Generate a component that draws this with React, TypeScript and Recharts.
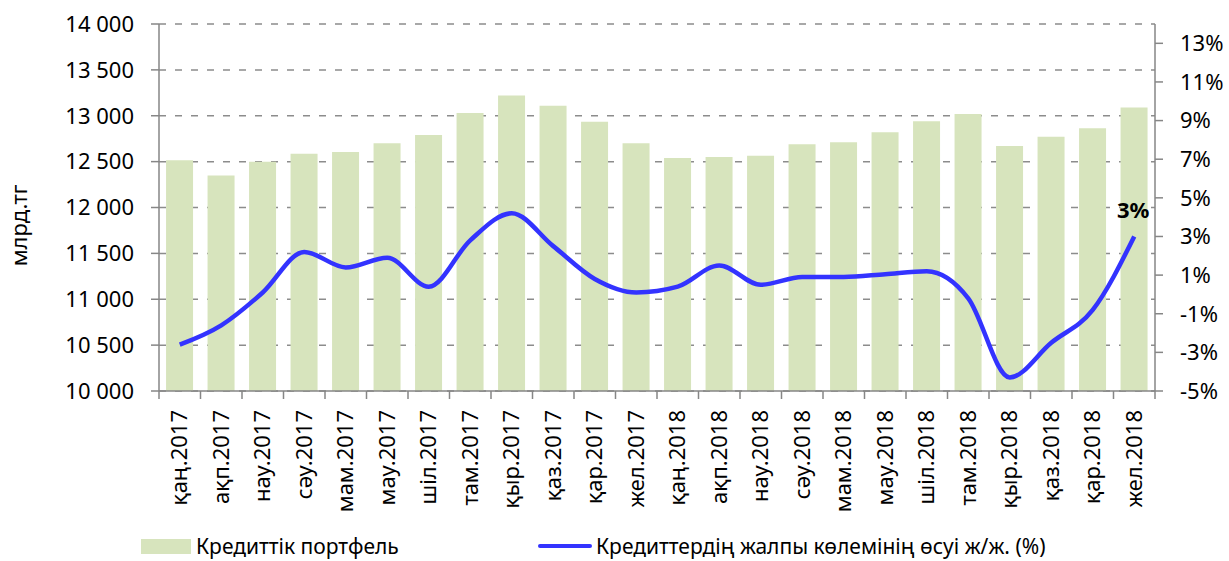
import { Bar, CartesianGrid, ComposedChart, Line, XAxis, YAxis } from 'recharts'

const months = [
  'қаң.2017', 'ақп.2017', 'нау.2017', 'сәу.2017', 'мам.2017', 'мау.2017',
  'шіл.2017', 'там.2017', 'қыр.2017', 'қаз.2017', 'қар.2017', 'жел.2017',
  'қаң.2018', 'ақп.2018', 'нау.2018', 'сәу.2018', 'мам.2018', 'мау.2018',
  'шіл.2018', 'там.2018', 'қыр.2018', 'қаз.2018', 'қар.2018', 'жел.2018',
]

// кредиттік портфель, млрд.тг
const portfolio = [
  12515, 12350, 12500, 12585, 12605, 12700, 12790, 13030, 13220, 13110, 12935, 12700,
  12540, 12550, 12565, 12690, 12710, 12820, 12940, 13020, 12670, 12770, 12865, 13090,
]

// өсу ж/ж, %
const growth = [
  -2.6, -1.6, 0.1, 2.2, 1.4, 1.9, 0.4, 2.8, 4.2, 2.5, 0.8, 0.1,
  0.4, 1.5, 0.5, 0.9, 0.9, 1.05, 1.2, -0.2, -4.3, -2.5, -0.8, 3.0,
]

const leftTicks = [10000, 10500, 11000, 11500, 12000, 12500, 13000, 13500, 14000]
const rightTicks = [-5, -3, -1, 1, 3, 5, 7, 9, 11, 13]

const data = months.map((m, i) => ({ month: m, portfolio: portfolio[i], growth: growth[i] }))

const FONT = '"Noto Sans", sans-serif'
const AXIS = '#868686'
const W = 1229
const H = 561
const LEFT_W = 159
const RIGHT_W = 74
const halfBand = (W - LEFT_W - RIGHT_W) / months.length / 2

const fmtThousands = (v: number) => String(v).replace(/\B(?=(\d{3})+(?!\d))/g, ' ')

function MonthTick(props: any) {
  const { x, y, payload, index } = props
  return (
    <g>
      <line x1={x - halfBand} x2={x - halfBand} y1={y - 8} y2={y} stroke={AXIS} strokeWidth={1.5} />
      {index === months.length - 1 && (
        <line x1={x + halfBand} x2={x + halfBand} y1={y - 8} y2={y} stroke={AXIS} strokeWidth={1.5} />
      )}
      <text
        transform={`translate(${x},${y + 11}) rotate(-90)`}
        textAnchor="end"
        dy="0.35em"
        fontSize={22}
        fontFamily={FONT}
        fill="#000"
      >
        {payload.value}
      </text>
    </g>
  )
}

function YLabel(props: any) {
  const { viewBox } = props
  const cx = viewBox.x + 19
  const cy = viewBox.y + viewBox.height / 2 + 18
  return (
    <text transform={`translate(${cx},${cy}) rotate(-90)`} textAnchor="middle" dy="0.35em"
      fontSize={22} fontFamily={FONT} fill="#000">
      млрд.тг
    </text>
  )
}

function LastLabel(props: any) {
  const { x, y, index, value } = props
  if (index !== growth.length - 1) return null
  return (
    <text x={x - 1} y={y - 18} textAnchor="middle" fontSize={22} fontWeight="bold" fontFamily={FONT} fill="#000">
      {Math.round(value)}%
    </text>
  )
}

export default function App() {
  return (
    <div style={{ position: 'absolute', left: 0, top: 0, width: W, height: H, fontFamily: FONT }}>
      <ComposedChart width={W} height={H} data={data} margin={{ top: 24, right: 0, bottom: 40, left: 0 }}
        barCategoryGap="17%">
        <CartesianGrid yAxisId="left" vertical={false} stroke="#8c8c8c" strokeWidth={1.5} strokeDasharray="7 9" />
        <XAxis dataKey="month" height={130} interval={0} tickSize={8} tickMargin={0} tickLine={false}
          axisLine={{ stroke: AXIS, strokeWidth: 1.5 }} tick={<MonthTick />} />
        <YAxis yAxisId="left" width={LEFT_W} domain={[10000, 14000]} ticks={leftTicks} tickFormatter={fmtThousands}
          tickSize={8} tickMargin={17} axisLine={{ stroke: AXIS, strokeWidth: 1.5 }}
          tickLine={{ stroke: AXIS, strokeWidth: 1.5 }}
          tick={{ fontSize: 22, fontFamily: FONT, fill: '#000' }} label={<YLabel />} />
        <YAxis yAxisId="right" orientation="right" width={RIGHT_W} domain={[-5, 14]} ticks={rightTicks}
          tickFormatter={(v: number) => `${v}%`} tickSize={8} tickMargin={17}
          axisLine={{ stroke: AXIS, strokeWidth: 1.5 }} tickLine={{ stroke: AXIS, strokeWidth: 1.5 }}
          tick={{ fontSize: 22, fontFamily: FONT, fill: '#000', textAnchor: 'start' }} />
        <Bar yAxisId="left" dataKey="portfolio" fill="#d7e4bd" isAnimationActive={false} />
        <Line yAxisId="right" dataKey="growth" type="monotone" stroke="#3333ff" strokeWidth={4.5} dot={false}
          activeDot={false} isAnimationActive={false} label={<LastLabel />} />
      </ComposedChart>
      <div style={{ position: 'absolute', top: 535, left: 141, display: 'flex', alignItems: 'center', fontSize: 21, lineHeight: '22px', height: 22 }}>
        <div style={{ width: 50, height: 15, background: '#d7e4bd' }} />
        <span style={{ marginLeft: 5, whiteSpace: 'nowrap' }}>Кредиттік портфель</span>
      </div>
      <div style={{ position: 'absolute', top: 535, left: 538, display: 'flex', alignItems: 'center', fontSize: 21, lineHeight: '22px', height: 22 }}>
        <div style={{ width: 54, height: 4, background: '#3333ff', borderRadius: 2 }} />
        <span style={{ marginLeft: 4, whiteSpace: 'nowrap' }}>Кредиттердің жалпы көлемінің өсуі ж/ж. (%)</span>
      </div>
    </div>
  )
}
